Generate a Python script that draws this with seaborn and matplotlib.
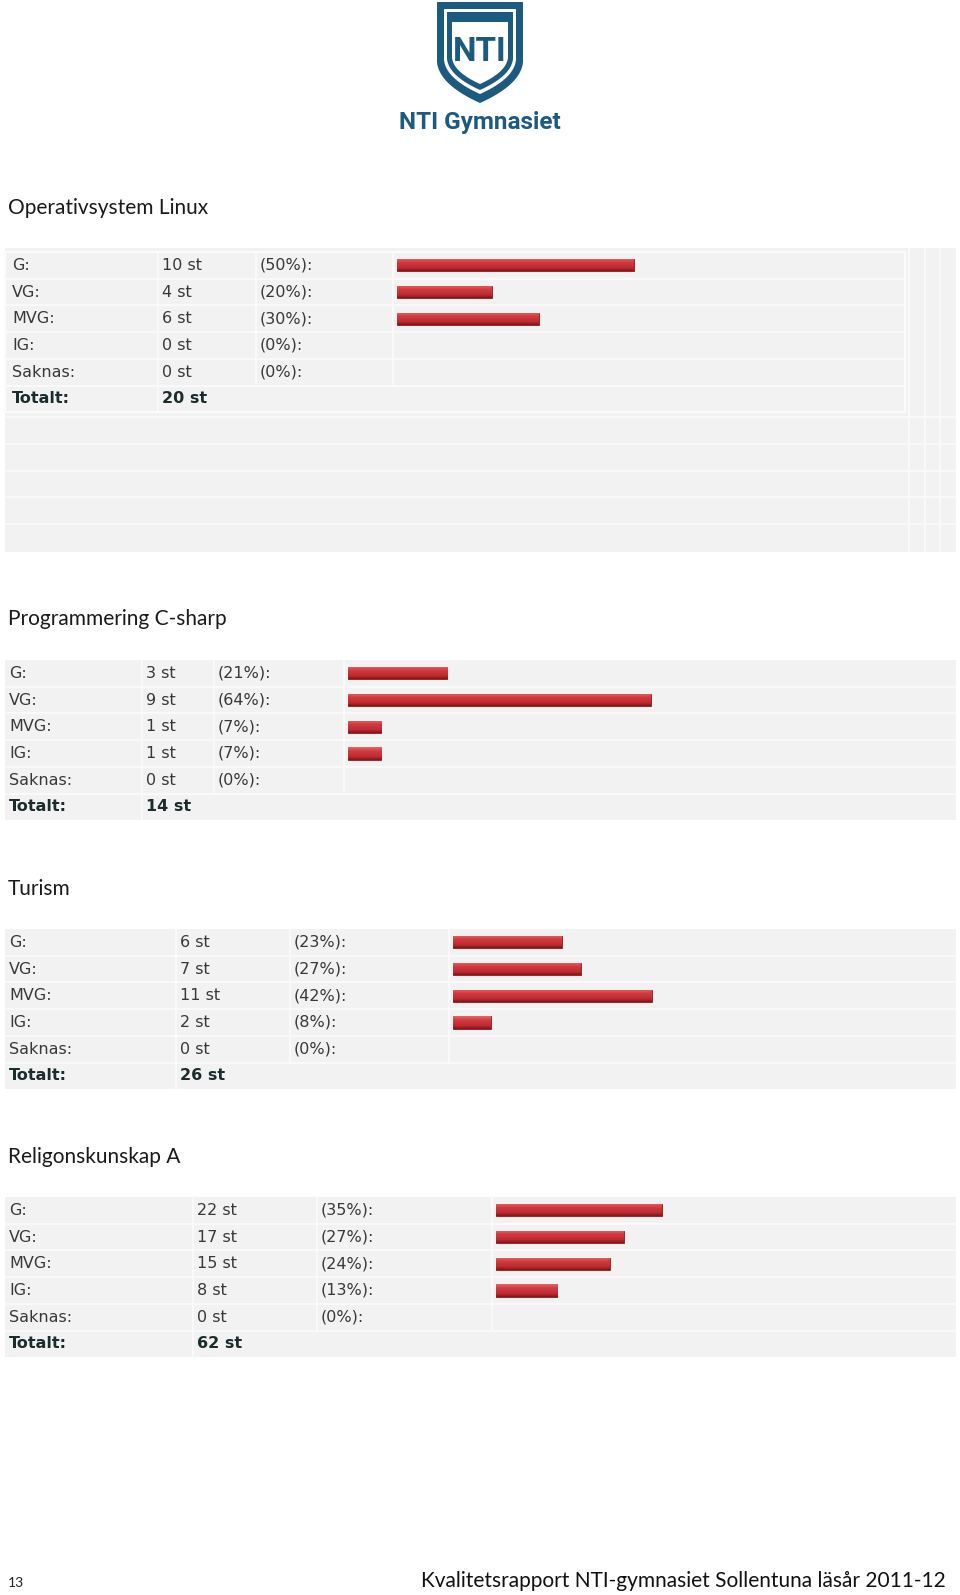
import numpy as np
import pandas as pd
import matplotlib
matplotlib.use("Agg")
import matplotlib.pyplot as plt
import seaborn as sns
from matplotlib.patches import Rectangle, Polygon
from matplotlib.colors import LinearSegmentedColormap

sns.set_theme(style="white")
plt.rcParams['font.family'] = ['DejaVu Sans']

# ---------------- data ----------------
grades = ["G:", "VG:", "MVG:", "IG:", "Saknas:"]
titles = ["Operativsystem Linux", "Programmering C-sharp", "Turism", "Religonskunskap A"]
counts_linux = [10, 4, 6, 0, 0]
pct_linux = [50, 20, 30, 0, 0]
total_linux = 20
counts_csharp = [3, 9, 1, 1, 0]
pct_csharp = [21, 64, 7, 7, 0]
total_csharp = 14
counts_turism = [6, 7, 11, 2, 0]
pct_turism = [23, 27, 42, 8, 0]
total_turism = 26
counts_relig = [22, 17, 15, 8, 0]
pct_relig = [35, 27, 24, 13, 0]
total_relig = 62
footer_page = "13"
footer_text = "Kvalitetsrapport NTI-gymnasiet Sollentuna läsår 2011-12"
logo_text = "NTI Gymnasiet"

W, H = 960, 1595
fig = plt.figure(figsize=(W / 100, H / 100), dpi=100)
fig.patch.set_facecolor("white")
page = fig.add_axes([0, 0, 1, 1])
page.set_xlim(0, W)
page.set_ylim(H, 0)
page.axis("off")

BG = "#f2f2f2"
LINE = "#fbfbfb"
TXT = "#383838"
BOLD = "#1c2b2b"
BLUE = "#1d5a7f"
RH = 26.7
BAR_SCALE = 473  # px for 100 %
bar_cmap = LinearSegmentedColormap.from_list(
    "barred", [(0, "#e4686b"), (0.3, "#d23c41"), (0.75, "#bf2a30"), (1, "#7e1518")])

# ---------------- logo ----------------
def shield(x0, x1, y0, ymid, ytip):
    cx = (x0 + x1) / 2
    t = np.linspace(0, 1, 20)
    ctrl = (x1 - 2, ytip - (ytip - ymid) * 0.45)
    rx = (1 - t) ** 2 * x1 + 2 * (1 - t) * t * ctrl[0] + t ** 2 * cx
    ry = (1 - t) ** 2 * ymid + 2 * (1 - t) * t * ctrl[1] + t ** 2 * ytip
    lx = 2 * cx - rx[::-1]
    ly = ry[::-1]
    pts = [(x0, y0), (x1, y0)] + list(zip(rx, ry)) + list(zip(lx, ly))[1:]
    return pts

page.add_patch(Polygon(shield(437, 523, 2, 62, 103), closed=True, fc=BLUE, ec="none"))
page.add_patch(Polygon(shield(444, 516, 9, 60, 94), closed=True, fc="white", ec="none"))
page.add_patch(Polygon(shield(447, 513, 12, 59, 90), closed=True, fc=BLUE, ec="none"))
page.add_patch(Polygon(shield(452, 508, 22, 58, 84), closed=True, fc="white", ec="none"))
page.add_patch(Rectangle((449, 13), 62, 9, fc=BLUE, ec="none"))
page.text(480, 52, "NTI", ha="center", va="center", fontsize=24, fontweight="bold",
          color=BLUE, family=["Roboto", "DejaVu Sans"])
page.text(479.5, 123, logo_text, ha="center", va="center", fontsize=17.5, fontweight="bold",
          color=BLUE, family=["Roboto", "DejaVu Sans"])

# ---------------- tables ----------------
def draw_table(title, title_y, top, x_cols, counts, pcts, total, right=956, lab_x=9):
    page.text(8, title_y, title, ha="left", va="center", fontsize=15, color="#1a1a1a",
              family=["Lato", "DejaVu Sans"])
    bottom = top + 6 * RH
    page.add_patch(Rectangle((5, top), right - 5, bottom - top, fc=BG, ec="none", zorder=1))
    for i in range(1, 6):
        y = top + i * RH
        page.plot([5, right], [y, y], color=LINE, lw=1.2, zorder=2)
    c1, c2, c3 = x_cols
    page.plot([c1, c1], [top, bottom], color=LINE, lw=1.2, zorder=2)
    page.plot([c2, c2], [top, top + 5 * RH], color=LINE, lw=1.2, zorder=2)
    page.plot([c3, c3], [top, top + 5 * RH], color=LINE, lw=1.2, zorder=2)
    for i, g in enumerate(grades):
        yc = top + RH * (i + 0.5)
        page.text(lab_x, yc, g, ha="left", va="center", fontsize=11.5, color=TXT, zorder=3)
        page.text(c1 + 4, yc, f"{counts[i]} st", ha="left", va="center", fontsize=11.5, color=TXT, zorder=3)
        page.text(c2 + 4, yc, f"({pcts[i]}%):", ha="left", va="center", fontsize=11.5, color=TXT, zorder=3)
    yc = top + RH * 5.5
    page.text(lab_x, yc, "Totalt:", ha="left", va="center", fontsize=11.5, color=BOLD,
              fontweight="bold", zorder=3)
    page.text(c1 + 4, yc, f"{total} st", ha="left", va="center", fontsize=11.5, color=BOLD,
              fontweight="bold", zorder=3)

    # bars
    bx = c3 + 4
    ax = fig.add_axes([bx / W, 1 - (top + 5 * RH) / H, BAR_SCALE / W, 5 * RH / H])
    ax.set_facecolor("none")
    df = pd.DataFrame({"grade": grades, "pct": pcts})
    sns.barplot(data=df, x="pct", y="grade", orient="h", ax=ax, color="#c8303a",
                width=0.46, edgecolor="#8a1a1d", linewidth=0.6, saturation=1)
    grad = np.linspace(0, 1, 64).reshape(-1, 1)
    for p in list(ax.patches):
        if p.get_width() == 0:
            p.set_visible(False)
            continue
        x, y, w, h = p.get_x(), p.get_y(), p.get_width(), p.get_height()
        im = ax.imshow(grad, cmap=bar_cmap, aspect="auto", origin="upper",
                       extent=[x, x + w, y + h, y], zorder=p.get_zorder() + 0.1,
                       interpolation="bilinear")
        im.set_clip_path(p)
    ax.set_xlim(0, 100)
    ax.set_ylim(4.5, -0.5)
    ax.axis("off")
    return ax

# Table 1 with extra grey area
page.add_patch(Rectangle((5, 248), 951, 304, fc=BG, ec="none", zorder=0.5))
for y in [417, 444, 471, 497, 524]:
    page.plot([5, 956], [y, y], color=LINE, lw=1.2, zorder=0.6)
for x in [909, 925, 940]:
    page.plot([x, x], [248, 552], color=LINE, lw=1.2, zorder=0.6)
page.add_patch(Rectangle((5, 252), 900, 6 * RH, fc="none", ec=LINE, lw=1.5, zorder=2.5))
draw_table(titles[0], 208, 252, (158, 256, 393), counts_linux, pct_linux, total_linux, right=905, lab_x=12)
draw_table(titles[1], 619, 660, (142, 214, 344), counts_csharp, pct_csharp, total_csharp)
draw_table(titles[2], 889, 929, (176, 290, 449), counts_turism, pct_turism, total_turism)
draw_table(titles[3], 1157, 1197, (193, 317, 492), counts_relig, pct_relig, total_relig)

# ---------------- footer ----------------
page.text(8, 1583, footer_page, ha="left", va="center", fontsize=10, color="#222222",
          family=["Lato", "DejaVu Sans"])
page.text(946, 1581, footer_text, ha="right", va="center", fontsize=15, color="#111111",
          family=["Lato", "DejaVu Sans"])

fig.savefig("out.png", dpi=100, facecolor="white")
